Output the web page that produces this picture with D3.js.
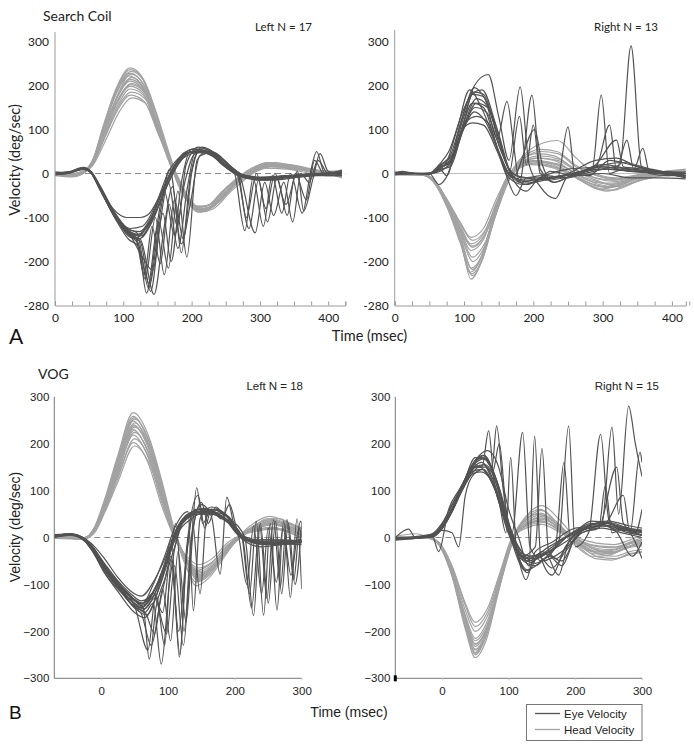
<!DOCTYPE html>
<html><head><meta charset="utf-8">
<script src="https://cdn.jsdelivr.net/npm/d3@7"></script>
<style>body{margin:0;background:#fff}svg{display:block}</style>
</head><body>
<script>
// ---------- DATA (time ms, velocity deg/sec as flat [t,v,t,v,...] knots) ----------
const yTickValues = [300,200,100,0,-100,-200,-300];
const aYTickLabels = ["300","200","100","0","-100","-200","-280"];
const bYTickLabels = ["300","200","100","0","\u2212100","\u2212200","\u2212300"];
const aXTickValues = [0,25,50,75,100,125,150,175,200,225,250,275,300,325,350,375,400,425];
const aXLabelValues = [0,100,200,300,400];
const bXTickValues = [0,100,200,300];
const legendLabels = ["Eye Velocity","Head Velocity"];
const panelTitles = ["Left N = 17","Right N = 13","Left N = 18","Right N = 15"];

const aLeftHead = [
[0,3, 25,-2, 45,8, 55,30, 70,105, 90,195, 110,240, 125,225, 145,150, 165,50, 180,-20, 200,-70, 215,-85, 235,-70, 260,-25, 285,5, 310,22, 345,15, 380,5, 420,-5],
[0,0, 25,-4, 45,6, 55,28, 70,100, 90,190, 112,232, 128,215, 148,130, 168,35, 185,-35, 205,-80, 225,-78, 250,-40, 275,-5, 305,18, 340,12, 380,3, 420,-8],
[0,-3, 25,-6, 45,5, 55,25, 70,95, 90,185, 110,228, 130,200, 150,115, 170,25, 190,-45, 210,-82, 230,-72, 255,-35, 280,0, 310,25, 345,20, 385,8, 420,2],
[0,5, 25,0, 45,10, 55,30, 70,98, 90,182, 108,222, 125,205, 145,135, 165,40, 180,-25, 200,-72, 220,-75, 245,-40, 270,-8, 300,15, 340,18, 380,6, 420,5],
[0,-5, 25,-8, 45,4, 55,22, 72,95, 92,178, 112,218, 130,195, 150,110, 172,15, 192,-55, 212,-88, 232,-80, 258,-40, 285,-5, 315,22, 350,16, 390,4, 420,-10],
[0,2, 25,-3, 45,6, 55,26, 70,92, 90,170, 110,210, 130,190, 150,105, 170,18, 188,-40, 208,-78, 228,-70, 252,-30, 278,0, 305,20, 345,14, 385,2, 420,0],
[0,-2, 25,-5, 45,5, 55,24, 72,90, 92,168, 112,205, 132,182, 152,95, 174,10, 195,-55, 215,-82, 238,-65, 262,-25, 290,5, 320,25, 355,15, 390,0, 420,-3],
[0,4, 25,-1, 45,7, 55,25, 70,88, 90,160, 110,198, 128,185, 148,110, 168,25, 186,-40, 205,-75, 225,-72, 250,-35, 275,-5, 302,12, 340,10, 380,0, 420,8],
[0,0, 25,-4, 45,6, 55,22, 72,82, 92,155, 110,192, 130,178, 150,100, 170,15, 190,-50, 210,-88, 230,-78, 255,-38, 282,-2, 312,18, 350,12, 390,2, 420,-6],
[0,-4, 25,-6, 45,4, 55,20, 72,80, 92,150, 112,185, 132,170, 152,90, 175,5, 195,-58, 215,-85, 240,-65, 265,-25, 292,3, 322,20, 360,10, 395,0, 420,3],
[0,1, 25,-3, 45,5, 55,20, 72,78, 92,145, 110,178, 130,165, 150,95, 172,10, 192,-52, 212,-80, 235,-70, 260,-30, 285,0, 315,15, 350,10, 390,2, 420,-2],
[0,-1, 25,-5, 45,5, 55,18, 74,75, 94,140, 112,172, 132,160, 152,88, 176,5, 198,-60, 218,-82, 242,-60, 268,-20, 295,5, 325,18, 360,8, 400,0, 420,4],
[0,2, 25,-2, 45,7, 55,28, 70,102, 90,192, 110,236, 128,218, 148,140, 168,42, 184,-28, 204,-78, 222,-80, 248,-38, 272,-4, 304,20, 342,14, 380,4, 420,-2],
[0,-2, 25,-5, 45,5, 55,24, 71,94, 91,176, 111,226, 129,205, 149,120, 170,22, 190,-48, 210,-84, 230,-74, 256,-32, 282,0, 312,24, 348,16, 386,4, 420,6],
[0,1, 25,-3, 45,6, 55,24, 71,92, 91,172, 110,214, 129,196, 149,112, 170,20, 189,-45, 208,-78, 228,-70, 254,-30, 280,2, 308,18, 346,12, 385,2, 420,-4],
[0,0, 25,-4, 45,5, 55,22, 72,86, 92,162, 111,202, 131,185, 151,100, 172,12, 193,-52, 213,-86, 236,-70, 262,-28, 288,2, 318,22, 354,14, 392,2, 420,0]
];
const aLeftEye = [
[0,0, 20,2, 42,12, 50,6, 65,-30, 85,-80, 105,-100, 125,-100, 135,-95, 150,-60, 165,0, 185,40, 205,50, 230,40, 255,10, 275,-5, 300,-10, 340,-5, 380,0, 420,0],
[0,-2, 20,2, 42,10, 52,4, 66,-35, 88,-95, 108,-130, 122,-138, 140,-110, 160,-40, 178,20, 200,55, 220,52, 245,20, 268,-5, 300,-15, 340,-10, 380,-5, 420,5],
[0,0, 20,4, 42,14, 52,5, 66,-32, 86,-92, 106,-135, 120,-145, 135,-120, 155,-50, 175,15, 200,45, 220,50, 250,15, 270,-5, 300,-12, 345,-8, 390,0, 420,-3],
[0,2, 20,3, 42,12, 52,4, 66,-35, 88,-100, 108,-140, 122,-160, 134,-272, 148,-130, 160,-40, 175,-140, 190,-20, 205,45, 225,50, 250,25, 270,0, 300,-10, 340,-5, 420,0],
[0,-3, 20,1, 42,11, 52,3, 66,-38, 88,-98, 110,-145, 125,-150, 145,-275, 160,-120, 172,-30, 185,-180, 198,-10, 212,55, 235,40, 258,10, 280,-10, 320,-15, 370,-5, 420,2],
[0,1, 20,3, 42,12, 52,5, 66,-30, 86,-90, 105,-130, 118,-145, 132,-240, 147,-100, 160,-230, 175,-60, 188,-150, 200,0, 215,60, 240,40, 262,5, 290,-10, 340,-8, 420,5],
[0,0, 20,2, 42,13, 52,4, 66,-36, 88,-102, 108,-150, 122,-165, 138,-250, 152,-110, 166,-215, 180,-40, 193,-190, 208,30, 222,50, 248,30, 268,0, 300,-8, 350,-5, 420,-5],
[0,-1, 20,2, 42,10, 52,3, 66,-34, 88,-96, 110,-140, 128,-190, 143,-220, 158,-90, 170,-200, 185,-20, 200,55, 225,45, 252,15, 275,-8, 310,-12, 360,-5, 420,0],
[0,2, 20,3, 42,12, 52,6, 66,-28, 86,-85, 106,-125, 120,-135, 137,-260, 155,-80, 168,10, 185,-160, 198,-70, 212,40, 232,48, 256,18, 278,-5, 310,-10, 360,-5, 420,3],
[0,0, 20,2, 42,11, 52,4, 66,-33, 88,-97, 108,-128, 124,-132, 142,-95, 160,-30, 178,25, 200,50, 225,48, 250,18, 262,5, 278,-130, 290,-10, 305,-120, 318,-5, 332,-90, 345,0, 362,-90, 375,10, 383,50, 395,0, 420,5],
[0,-2, 20,1, 42,10, 52,3, 66,-36, 88,-100, 110,-138, 126,-142, 144,-100, 162,-35, 180,20, 205,52, 228,45, 252,12, 266,0, 284,-125, 298,-15, 311,-110, 325,-10, 340,-95, 352,0, 368,-60, 380,30, 395,-5, 420,-5],
[0,1, 20,3, 42,12, 52,5, 66,-31, 88,-94, 108,-132, 122,-140, 140,-105, 158,-38, 176,18, 200,48, 224,45, 250,15, 270,-5, 293,-135, 307,-20, 320,-95, 335,-20, 348,-110, 360,0, 372,-20, 385,30, 400,0, 420,8],
[0,-1, 20,2, 42,11, 52,4, 66,-34, 88,-99, 108,-136, 124,-148, 142,-110, 160,-42, 178,15, 202,50, 226,48, 250,16, 268,0, 280,-100, 295,0, 309,-80, 322,0, 338,-70, 355,5, 364,-85, 378,-10, 388,45, 400,5, 420,0],
[0,0, 20,1, 42,10, 52,3, 68,-38, 90,-100, 110,-125, 128,-120, 148,-70, 168,0, 190,48, 212,58, 235,45, 258,15, 280,-8, 310,-15, 350,-5, 420,3],
[0,1, 20,3, 42,12, 52,5, 66,-33, 88,-98, 108,-138, 120,-150, 131,-230, 142,-120, 154,-205, 167,-70, 180,-170, 194,-30, 206,50, 230,45, 256,12, 278,-5, 310,-12, 360,-5, 420,2],
[0,0, 20,2, 42,11, 52,4, 66,-35, 88,-101, 110,-142, 125,-155, 140,-268, 154,-110, 166,-20, 179,-120, 192,20, 210,60, 232,45, 256,12, 276,-5, 310,-10, 360,-3, 420,0]
];

const aRightHead = [
[0,0, 20,-2, 40,-2, 55,-15, 75,-70, 95,-150, 110,-240, 125,-200, 140,-120, 155,-40, 170,5, 190,25, 220,20, 250,0, 280,-25, 300,-35, 340,-15, 380,0, 420,5],
[0,2, 20,0, 40,-3, 55,-18, 75,-75, 95,-160, 112,-232, 128,-190, 143,-105, 160,-25, 175,10, 200,30, 225,25, 255,0, 285,-30, 305,-40, 345,-20, 385,-5, 420,0],
[0,-2, 20,-3, 40,-4, 55,-16, 75,-72, 95,-155, 108,-225, 124,-195, 140,-110, 157,-30, 172,5, 195,20, 230,15, 260,-5, 290,-28, 310,-32, 350,-12, 390,-2, 420,-5],
[0,0, 20,-1, 40,-2, 55,-14, 75,-68, 95,-148, 112,-218, 130,-170, 146,-85, 162,-15, 178,15, 205,35, 235,30, 262,5, 290,-15, 312,-25, 350,-10, 390,5, 420,8],
[0,3, 20,1, 40,-1, 55,-12, 75,-62, 95,-140, 110,-215, 126,-185, 142,-100, 158,-20, 175,12, 200,22, 230,12, 260,-8, 292,-35, 315,-38, 355,-15, 395,-5, 420,-8],
[0,-1, 20,-2, 40,-3, 55,-15, 75,-66, 95,-130, 110,-175, 128,-150, 145,-80, 162,-15, 180,25, 205,45, 230,40, 260,10, 290,-10, 315,-15, 350,-5, 390,5, 420,10],
[0,1, 20,0, 40,-2, 55,-14, 75,-62, 95,-125, 112,-168, 130,-140, 148,-70, 165,-5, 185,40, 215,70, 235,75, 262,35, 290,0, 320,-10, 360,0, 395,5, 420,5],
[0,0, 20,-2, 40,-3, 55,-13, 75,-60, 95,-120, 110,-160, 128,-138, 146,-70, 162,-10, 180,20, 205,35, 230,30, 260,0, 290,-20, 315,-22, 350,-8, 390,0, 420,-3],
[0,2, 20,1, 40,-1, 55,-12, 75,-58, 95,-115, 112,-152, 130,-130, 148,-62, 165,-5, 183,30, 210,50, 235,45, 262,15, 292,-5, 320,-12, 360,-2, 400,5, 420,3],
[0,-3, 20,-3, 40,-4, 55,-14, 75,-58, 95,-112, 110,-145, 128,-125, 146,-60, 163,-8, 180,18, 205,28, 235,22, 265,-5, 295,-25, 320,-30, 360,-10, 400,0, 420,-2],
[0,0, 20,-1, 40,-2, 55,-13, 75,-64, 95,-138, 113,-200, 130,-165, 147,-90, 164,-18, 180,12, 210,25, 240,18, 268,-5, 295,-20, 318,-28, 355,-10, 395,0, 420,2],
[0,1, 20,0, 40,-2, 55,-12, 75,-60, 95,-132, 112,-190, 130,-158, 148,-82, 166,-12, 185,28, 210,40, 238,32, 265,5, 292,-12, 318,-18, 355,-5, 395,2, 420,0],
[0,0, 20,-1, 40,-3, 55,-16, 75,-70, 95,-152, 111,-228, 127,-192, 143,-108, 159,-28, 175,8, 200,28, 228,20, 256,-2, 286,-24, 308,-30, 348,-12, 388,-2, 420,4],
[0,1, 20,0, 40,-2, 55,-13, 75,-61, 95,-128, 111,-165, 129,-142, 147,-72, 164,-8, 182,32, 210,55, 234,50, 262,18, 290,-4, 318,-14, 358,-4, 396,4, 420,6]
];
const aRightEye = [
[0,0, 10,5, 30,0, 50,0, 62,15, 72,20, 90,100, 108,190, 125,150, 145,70, 160,0, 175,-50, 190,-10, 210,-10, 240,-5, 270,5, 300,10, 340,5, 380,0, 420,-5],
[0,-3, 30,0, 50,-2, 65,10, 75,-5, 92,95, 112,180, 128,175, 148,80, 162,164, 172,60, 180,-20, 200,-15, 230,-10, 260,0, 300,20, 340,10, 380,5, 420,0],
[0,0, 30,0, 50,0, 65,12, 80,30, 100,120, 115,200, 135,225, 150,130, 165,30, 181,197, 194,20, 210,-30, 232,-57, 248,-10, 265,0, 300,10, 350,5, 420,-5],
[0,2, 30,0, 50,-2, 66,20, 80,40, 98,130, 115,195, 130,170, 150,90, 165,10, 180,-20, 198,178, 210,10, 230,-20, 260,0, 300,15, 340,5, 420,0],
[0,0, 30,0, 50,0, 64,-25, 74,-10, 95,90, 112,160, 128,150, 148,60, 165,0, 180,130, 190,20, 200,110, 210,0, 225,-10, 260,0, 300,15, 340,10, 420,-8],
[0,-2, 30,-1, 52,0, 66,5, 80,25, 100,110, 118,170, 133,155, 152,70, 168,-5, 190,-40, 210,-10, 235,-10, 250,106, 260,0, 280,-5, 310,30, 340,20, 380,5, 420,0],
[0,0, 30,0, 52,2, 66,10, 80,15, 98,95, 115,140, 130,120, 150,50, 168,-5, 190,-15, 220,-10, 260,0, 285,10, 298,178, 310,0, 330,10, 360,5, 420,0],
[0,0, 30,0, 52,0, 66,8, 80,20, 100,105, 118,160, 134,150, 152,60, 170,0, 190,-10, 220,-15, 260,-5, 300,10, 325,20, 341,290, 356,15, 370,0, 395,0, 420,-8],
[0,0, 30,1, 52,0, 68,15, 82,35, 100,110, 116,150, 132,140, 150,65, 168,0, 190,-25, 215,-5, 250,10, 290,15, 310,110, 320,10, 335,76, 345,10, 358,57, 368,0, 395,-5, 420,0],
[0,0, 30,0, 52,0, 66,12, 82,30, 102,115, 118,130, 135,115, 152,40, 170,-10, 202,100, 213,20, 230,-20, 260,0, 290,20, 320,76, 330,15, 360,10, 420,-10],
[0,-2, 30,0, 52,-1, 66,15, 80,25, 98,100, 112,115, 128,110, 148,50, 165,-10, 185,-25, 215,-15, 250,0, 290,30, 320,35, 350,15, 380,5, 420,3],
[0,0, 30,0, 52,0, 66,18, 82,40, 100,130, 115,185, 128,180, 148,90, 165,10, 185,-10, 215,-5, 250,-10, 290,15, 330,25, 370,10, 420,-5],
[0,3, 30,0, 52,0, 64,20, 78,50, 98,140, 112,182, 126,190, 146,110, 162,20, 178,-15, 200,-20, 225,5, 260,-5, 300,0, 340,-10, 380,-10, 420,-12]
];

const bLeftHead = [
[-70,3, -45,2, -25,0, -10,22, 5,80, 25,175, 48,266, 70,220, 90,125, 108,25, 125,-50, 142,-103, 162,-85, 185,-40, 205,0, 230,32, 252,45, 275,35, 300,20],
[-70,2, -45,0, -25,-2, -10,20, 5,75, 25,170, 48,258, 70,210, 90,115, 108,18, 125,-55, 142,-95, 162,-80, 185,-35, 208,0, 232,28, 255,40, 278,30, 300,18],
[-70,0, -45,-2, -25,-3, -10,18, 5,72, 25,165, 50,252, 72,205, 92,108, 110,10, 128,-52, 145,-90, 165,-70, 188,-28, 210,5, 235,30, 255,38, 280,25, 300,12],
[-70,4, -45,2, -25,0, -10,20, 5,74, 25,162, 48,248, 70,200, 90,105, 108,12, 126,-45, 143,-85, 162,-72, 185,-30, 208,0, 232,22, 252,30, 278,22, 300,10],
[-70,-2, -45,-3, -25,-4, -10,16, 5,70, 25,158, 50,244, 72,198, 92,100, 112,5, 130,-55, 148,-88, 168,-65, 190,-20, 212,10, 238,28, 258,35, 282,22, 300,8],
[-70,1, -45,0, -25,-1, -10,18, 5,70, 25,155, 48,240, 70,195, 90,98, 110,8, 128,-48, 145,-80, 165,-68, 188,-28, 210,2, 235,20, 255,28, 280,18, 300,5],
[-70,3, -45,1, -25,0, -10,17, 5,68, 25,150, 50,235, 72,190, 92,92, 112,2, 130,-52, 148,-78, 168,-60, 192,-18, 215,8, 240,25, 260,30, 285,20, 300,10],
[-70,0, -45,-1, -25,-2, -10,15, 5,65, 25,145, 48,230, 70,182, 90,88, 108,5, 126,-42, 142,-70, 162,-58, 186,-22, 210,5, 235,18, 255,22, 280,12, 300,0],
[-70,2, -45,0, -25,-1, -10,15, 5,62, 25,140, 50,224, 72,178, 92,82, 112,-2, 130,-50, 148,-72, 170,-52, 195,-12, 218,10, 242,25, 262,28, 285,15, 300,5],
[-70,-1, -45,-2, -25,-3, -10,14, 5,60, 25,135, 48,218, 70,172, 90,78, 110,0, 128,-45, 146,-65, 166,-52, 190,-15, 212,5, 238,15, 258,18, 282,10, 300,-2],
[-70,1, -45,0, -25,-2, -10,13, 5,58, 25,130, 50,210, 72,168, 92,75, 112,-3, 132,-55, 150,-75, 170,-55, 195,-10, 220,15, 245,30, 265,32, 288,18, 300,8],
[-70,3, -45,1, -25,0, -10,12, 5,55, 25,125, 48,202, 70,160, 90,70, 110,0, 128,-40, 146,-58, 166,-45, 190,-10, 215,8, 240,18, 260,20, 285,12, 300,4],
[-70,0, -45,-1, -25,-2, -10,10, 5,52, 25,118, 50,195, 72,158, 94,68, 114,-5, 134,-60, 152,-82, 172,-58, 198,-10, 222,15, 248,40, 268,40, 290,22, 300,15],
[-70,2, -45,1, -25,-1, -10,19, 5,73, 25,166, 49,255, 71,208, 91,112, 109,16, 127,-50, 144,-92, 164,-76, 187,-32, 209,2, 234,26, 254,36, 279,26, 300,14],
[-70,0, -45,-1, -25,-2, -10,16, 5,66, 25,148, 49,238, 71,190, 91,95, 111,4, 129,-50, 147,-82, 167,-62, 190,-22, 213,6, 238,22, 258,28, 282,18, 300,6],
[-70,1, -45,0, -25,-2, -10,14, 5,62, 25,138, 49,228, 71,180, 91,85, 111,-2, 130,-52, 148,-85, 168,-62, 193,-15, 217,12, 242,30, 262,34, 286,20, 300,10]
];
const bLeftEye = [
[-70,2, -45,8, -30,2, -15,-15, 0,-50, 20,-95, 45,-140, 60,-150, 80,-110, 100,-45, 115,10, 135,40, 160,55, 185,40, 210,0, 240,-10, 270,-10, 300,-8],
[-70,5, -45,6, -30,0, -12,-25, 5,-70, 25,-105, 50,-150, 68,-165, 88,-100, 105,-20, 120,30, 145,50, 170,50, 195,30, 215,-5, 245,-15, 275,-10, 300,-12],
[-70,3, -45,6, -30,0, -15,-20, 5,-65, 25,-100, 50,-135, 63,-150, 72,-259, 82,-150, 95,-90, 110,-20, 125,40, 150,60, 175,45, 200,20, 215,-5, 250,-5, 300,-10],
[-70,0, -45,5, -30,-2, -15,-22, 5,-75, 25,-110, 50,-140, 65,-160, 78,-140, 90,-270, 102,-100, 112,-10, 128,45, 155,55, 185,40, 210,0, 250,-15, 300,-5],
[-70,4, -45,7, -30,1, -15,-18, 5,-60, 25,-95, 45,-125, 60,-145, 80,-120, 95,-60, 105,-5, 117,-255, 128,-40, 140,60, 165,55, 190,45, 210,5, 245,-12, 300,-8],
[-70,2, -45,6, -30,0, -15,-25, 5,-70, 25,-108, 48,-145, 62,-155, 80,-130, 98,-205, 110,-60, 123,-230, 135,-10, 143,106, 152,30, 165,60, 185,50, 210,0, 245,-10, 300,-15],
[-70,6, -45,8, -30,2, -15,-20, 5,-68, 25,-100, 50,-150, 60,-162, 75,-230, 88,-140, 100,-60, 112,30, 124,-200, 135,0, 150,70, 165,45, 178,-78, 188,86, 200,20, 215,-5, 250,-10, 300,-5],
[-70,3, -45,5, -30,0, -15,-18, 5,-62, 25,-98, 48,-130, 62,-140, 78,-100, 95,-40, 110,20, 130,55, 138,-156, 148,40, 165,65, 185,50, 205,10, 230,-10, 265,-15, 300,-10],
[-70,2, -45,6, -30,0, -15,-22, 5,-66, 25,-102, 48,-138, 62,-148, 82,-105, 100,-35, 114,20, 138,50, 162,55, 188,38, 210,5, 222,-120, 232,35, 243,-166, 253,30, 263,-155, 273,35, 283,-128, 293,40, 300,-110],
[-70,4, -45,7, -30,1, -15,-16, 5,-58, 25,-96, 46,-128, 62,-140, 84,-98, 102,-28, 116,25, 140,52, 165,60, 190,42, 215,0, 228,-166, 238,30, 250,-140, 261,35, 270,-120, 280,30, 290,-100, 300,30],
[-70,1, -45,5, -30,-1, -15,-20, 5,-64, 25,-98, 50,-142, 64,-152, 84,-108, 100,-42, 115,15, 140,48, 165,52, 190,35, 212,-5, 225,-150, 237,25, 248,-130, 258,38, 268,-105, 278,38, 288,-90, 298,35, 300,30],
[-70,4, -45,8, -30,2, -15,-12, 5,-45, 25,-85, 45,-115, 60,-125, 80,-90, 100,-30, 115,25, 140,55, 165,50, 190,35, 210,-2, 240,-20, 270,-15, 300,-10],
[-70,3, -45,6, -30,0, -15,-25, 5,-75, 25,-115, 50,-160, 65,-171, 85,-115, 100,-50, 112,10, 130,45, 158,58, 180,45, 205,10, 235,-5, 270,-5, 300,-8],
[-70,2, -45,5, -30,0, -15,-20, 5,-65, 25,-100, 50,-145, 70,-240, 82,-120, 95,-230, 105,-50, 118,-250, 128,-20, 145,90, 155,20, 165,60, 180,40, 192,70, 205,10, 220,-5, 260,-10, 300,-5],
[-70,3, -45,6, -30,0, -15,-20, 5,-66, 25,-104, 50,-148, 66,-160, 80,-205, 92,-110, 104,-220, 115,-30, 127,-180, 138,20, 150,75, 160,30, 172,65, 186,40, 205,5, 230,-10, 265,-12, 300,-8],
[-70,2, -45,6, -30,1, -15,-18, 5,-60, 25,-96, 48,-132, 62,-142, 78,-118, 92,-160, 104,-40, 116,-200, 126,-60, 136,40, 148,-120, 158,50, 170,60, 190,45, 210,0, 245,-12, 300,-10],
[-70,4, -45,7, -30,1, -15,-16, 5,-55, 25,-92, 46,-122, 60,-135, 80,-112, 98,-50, 112,15, 130,50, 155,62, 180,45, 205,5, 218,-100, 228,25, 240,-120, 250,20, 262,-95, 272,20, 284,-80, 296,20, 300,0]
];

const bRightHead = [
[-70,0, -40,2, -20,0, -5,-15, 15,-82, 35,-195, 50,-256, 66,-220, 85,-115, 103,-15, 122,35, 145,50, 170,25, 195,-10, 225,-40, 250,-38, 275,-22, 300,-10],
[-70,-2, -40,0, -20,-1, -5,-14, 15,-80, 35,-190, 50,-250, 66,-212, 85,-110, 104,-10, 124,40, 148,60, 172,30, 198,-5, 228,-35, 252,-35, 278,-20, 300,-15],
[-70,2, -40,8, -20,0, -5,-13, 15,-78, 35,-185, 50,-245, 66,-205, 86,-102, 105,-5, 126,45, 150,68, 175,40, 200,0, 230,-25, 255,-30, 280,-20, 300,-5],
[-70,0, -40,-1, -20,-2, -5,-15, 15,-78, 35,-182, 50,-238, 67,-200, 87,-98, 106,-8, 126,30, 150,42, 175,20, 200,-12, 230,-45, 255,-48, 280,-35, 300,-30],
[-70,1, -40,1, -20,0, -5,-12, 15,-75, 35,-178, 50,-232, 67,-195, 87,-95, 106,-5, 127,35, 150,48, 176,25, 202,-8, 232,-30, 256,-32, 280,-20, 300,-12],
[-70,-1, -40,0, -20,-1, -5,-12, 15,-72, 35,-172, 50,-226, 68,-190, 88,-92, 108,-2, 128,30, 152,38, 178,18, 205,-10, 235,-35, 258,-40, 282,-30, 300,-25],
[-70,0, -40,0, -20,0, -5,-12, 15,-72, 35,-170, 50,-220, 68,-185, 88,-90, 108,0, 128,25, 152,32, 178,12, 205,-15, 235,-42, 260,-45, 285,-35, 300,-32],
[-70,2, -40,1, -20,0, -5,-11, 15,-70, 35,-165, 50,-215, 68,-178, 88,-85, 108,2, 128,28, 150,35, 176,15, 205,-5, 235,-20, 260,-22, 285,-10, 300,-5],
[-70,-2, -40,-1, -20,-2, -5,-10, 15,-62, 35,-145, 50,-190, 68,-160, 88,-75, 106,0, 126,20, 150,28, 178,10, 205,-8, 235,-18, 260,-20, 285,-8, 300,0],
[-70,0, -40,0, -20,-1, -5,-10, 15,-60, 35,-140, 50,-181, 68,-152, 88,-70, 105,0, 124,25, 148,35, 175,18, 202,0, 232,-12, 258,-15, 282,-5, 300,5],
[-70,1, -40,0, -20,0, -5,-13, 15,-76, 35,-180, 50,-240, 67,-202, 86,-100, 105,-6, 125,38, 148,52, 172,28, 198,-8, 228,-30, 253,-28, 278,-15, 300,-8],
[-70,0, -40,-1, -20,-1, -5,-12, 15,-74, 35,-175, 50,-228, 68,-192, 88,-96, 108,-4, 128,32, 152,45, 178,22, 205,-6, 235,-28, 258,-30, 282,-18, 300,-12],
[-70,0, -40,1, -20,0, -5,-14, 15,-79, 35,-188, 50,-247, 66,-208, 86,-105, 105,-8, 125,36, 149,58, 173,32, 199,-6, 229,-32, 254,-34, 279,-22, 300,-18],
[-70,1, -40,0, -20,-1, -5,-11, 15,-66, 35,-155, 50,-200, 68,-168, 88,-80, 107,0, 127,26, 151,40, 177,20, 204,-4, 234,-24, 259,-26, 284,-12, 300,-4]
];
const bRightEye = [
[-70,-5, -40,0, -15,5, 0,25, 15,60, 30,110, 50,165, 62,175, 80,120, 100,20, 115,-30, 135,-40, 160,-20, 190,5, 220,25, 245,30, 270,20, 300,10],
[-70,-3, -40,-2, -15,3, 0,20, 15,55, 30,100, 48,150, 60,160, 78,110, 98,15, 115,-35, 140,-45, 165,-25, 195,10, 225,30, 250,25, 280,10, 300,5],
[-70,0, -40,0, -15,5, 0,22, 15,60, 28,100, 45,150, 60,150, 70,227, 78,120, 95,40, 110,-20, 126,-90, 140,-30, 165,-10, 200,20, 240,25, 270,15, 300,15],
[-70,-2, -40,2, -15,8, 0,30, 15,70, 30,110, 48,160, 62,170, 75,150, 82,238, 92,100, 105,10, 121,224, 132,-20, 150,-50, 180,-30, 210,10, 240,20, 270,10, 300,0],
[-70,0, -40,0, -15,2, 0,18, 15,55, 30,105, 50,155, 65,140, 85,80, 96,10, 103,171, 112,-30, 130,-70, 139,216, 148,-40, 165,-80, 185,-20, 210,15, 245,25, 275,15, 300,5],
[-70,-5, -40,-2, -15,5, 0,15, 15,10, 25,-20, 35,90, 48,135, 62,145, 80,100, 100,20, 118,-40, 140,-55, 165,-30, 190,5, 220,20, 250,25, 280,20, 300,15],
[-70,0, -40,0, -15,3, 0,20, 15,58, 30,100, 50,150, 65,150, 85,90, 105,0, 125,-50, 150,-40, 175,-10, 190,238, 200,-20, 220,10, 238,220, 250,40, 265,20, 285,15, 300,10],
[-70,-3, -40,0, -15,0, 0,20, 15,60, 30,105, 50,170, 66,165, 85,110, 105,10, 125,-45, 150,-35, 180,-5, 210,15, 240,30, 255,235, 265,50, 280,280, 290,200, 300,130],
[-70,0, -50,18, -40,0, -15,2, 0,20, 15,55, 30,100, 50,145, 65,155, 85,100, 105,-10, 125,-70, 150,-50, 170,-20, 183,160, 193,-10, 215,20, 245,30, 272,90, 282,10, 297,182, 300,160],
[-70,-2, -40,-2, -15,4, 0,22, 15,60, 30,108, 50,160, 63,175, 80,130, 100,30, 115,-20, 135,-50, 155,-35, 175,-80, 190,-10, 215,20, 235,20, 245,110, 255,10, 275,20, 290,-10, 300,-45],
[-70,0, -40,0, -15,6, 0,28, 15,68, 30,112, 50,165, 68,185, 85,150, 100,60, 115,0, 130,-60, 150,-30, 172,-45, 195,0, 225,35, 250,30, 275,20, 300,5],
[-70,-4, -40,0, -15,5, -5,-30, 10,60, 25,100, 45,140, 60,145, 80,100, 98,20, 120,-40, 140,-20, 150,190, 160,-30, 180,-50, 200,0, 230,30, 260,15, 285,-40, 300,-10],
[-70,0, -40,0, -15,3, 0,20, 12,50, 28,95, 45,135, 58,140, 75,120, 95,40, 110,-10, 130,-40, 160,-30, 190,-5, 220,25, 250,35, 280,25, 300,20],
[-70,0, -40,0, -15,4, 0,24, 15,62, 30,106, 50,158, 64,168, 82,120, 100,25, 118,-45, 140,-60, 160,-40, 180,-60, 198,-5, 225,28, 250,32, 275,22, 300,12],
[-70,-2, -40,0, -15,3, 0,20, 15,58, 30,102, 50,150, 62,155, 76,140, 86,200, 96,60, 110,-20, 128,-75, 145,-40, 165,-65, 185,-30, 210,10, 235,20, 262,150, 272,30, 290,10, 300,60]
];

// ---------- DRAWING ----------
const W = 694, H = 751;
const svg = d3.select("body").append("svg").attr("width", W).attr("height", H);
const headColor = "#a2a2a2", eyeColor = "#525252";
const fontA = "Lato, 'Open Sans', sans-serif";
const fontB = "'Liberation Sans', Arial, sans-serif";

function pairs(a){ const r=[]; for(let i=0;i<a.length;i+=2) r.push([a[i],a[i+1]]); return r; }

const panels = [
 {style:"A", xr:[55,345.3], xd:[0,425], yr:[305.5,41.5], axisTop:32, head:aLeftHead, eye:aLeftEye, zero:"dash", title:panelTitles[0], tx:312, ty:31, ylabx:20, ylaby:160},
 {style:"A", xr:[394.7,685.8], xd:[0,420], yr:[305.5,41.5], axisTop:30, head:aRightHead, eye:aRightEye, zero:"solid", title:panelTitles[1], tx:658, ty:31},
 {style:"B", xr:[54.3,301.7], xd:[-70,300], yr:[678.3,396.7], head:bLeftHead, eye:bLeftEye, zero:"dash", title:panelTitles[2], tx:303, ty:390, ylabx:20, ylaby:527},
 {style:"B", xr:[395.3,642], xd:[-70,300], yr:[678.3,396.7], head:bRightHead, eye:bRightEye, zero:"dash", title:panelTitles[3], tx:659, ty:390, marker:true}
];

panels.forEach((p,i) => {
  const x = d3.scaleLinear().domain(p.xd).range(p.xr);
  const y = d3.scaleLinear().domain([-300,300]).range(p.yr);
  const g = svg.append("g");
  const isA = p.style === "A";
  const font = isA ? fontA : fontB;
  const clipId = "clip"+i;
  svg.append("clipPath").attr("id", clipId).append("rect")
    .attr("x", p.xr[0]).attr("y", 0).attr("width", p.xr[1]-p.xr[0]).attr("height", H);

  g.append("line").attr("x1", p.xr[0]).attr("x2", p.xr[1]).attr("y1", y(0)).attr("y2", y(0))
    .attr("stroke", p.zero==="dash" ? "#8a8a8a" : "#bdbdbd").attr("stroke-width", 1)
    .attr("stroke-dasharray", p.zero==="dash" ? "6,4" : null);

  const line = d3.line().x(d => x(d[0])).y(d => y(d[1])).curve(d3.curveMonotoneX);
  const tg = g.append("g").attr("clip-path", `url(#${clipId})`);
  tg.selectAll(".head").data(p.head).join("path")
    .attr("d", d => line(pairs(d))).attr("fill","none").attr("stroke", headColor).attr("stroke-width", 1.2);
  tg.selectAll(".eye").data(p.eye).join("path")
    .attr("d", d => line(pairs(d))).attr("fill","none").attr("stroke", eyeColor).attr("stroke-width", 1.2);

  if (isA) {
    const xa = d3.axisBottom(x).tickValues(aXTickValues).tickSize(-4).tickPadding(8)
      .tickFormat(d => aXLabelValues.includes(d) ? String(d) : "");
    const gx = g.append("g").attr("transform", `translate(0,${p.yr[0]})`).call(xa);
    gx.select(".domain").attr("stroke", "#9a9a9a");
    gx.selectAll(".tick line").attr("stroke", "#9a9a9a");
    gx.selectAll("text").attr("font-family", font).attr("font-size", 12).attr("fill", "#222");
    g.append("line").attr("x1", p.xr[0]).attr("x2", p.xr[0]).attr("y1", p.axisTop).attr("y2", p.yr[0])
      .attr("stroke", "#9a9a9a").attr("stroke-width", 1);
    const ya = d3.axisLeft(y).tickValues(yTickValues).tickSize(0).tickPadding(6)
      .tickFormat((d,k) => aYTickLabels[k]);
    const gy = g.append("g").attr("transform", `translate(${p.xr[0]},0)`).call(ya);
    gy.select(".domain").remove();
    gy.selectAll("text").attr("font-family", font).attr("font-size", 12).attr("fill", "#222");
  } else {
    const xa = d3.axisBottom(x).tickValues(bXTickValues).tickSize(2).tickPadding(7);
    const gx = g.append("g").attr("transform", `translate(0,${p.yr[0]})`).call(xa);
    gx.select(".domain").attr("stroke", "#777").attr("d", `M${p.xr[0]},0H${p.xr[1]}`);
    gx.selectAll(".tick line").attr("stroke", "#ccc");
    gx.selectAll("text").attr("font-family", font).attr("font-size", 11.5).attr("fill", "#222");
    const ya = d3.axisLeft(y).tickValues(yTickValues).tickSize(0).tickPadding(5)
      .tickFormat((d,k) => bYTickLabels[k]);
    const gy = g.append("g").attr("transform", `translate(${p.xr[0]},0)`).call(ya);
    gy.select(".domain").attr("stroke", "#777").attr("d", `M0,${p.yr[1]}V${p.yr[0]}`);
    gy.selectAll("text").attr("font-family", font).attr("font-size", 11.5).attr("fill", "#222");
  }
  if (p.marker) {
    g.append("rect").attr("x", p.xr[0]-1.5).attr("y", p.yr[0]-3).attr("width", 3).attr("height", 6).attr("fill", "#000");
  }
  g.append("text").attr("x", p.tx).attr("y", p.ty).attr("text-anchor","end")
    .attr("font-family", font).attr("font-size", 11.5).attr("fill","#222").text(p.title);
  if (p.ylabx) {
    g.append("text").attr("transform", `translate(${p.ylabx},${p.ylaby}) rotate(-90)`)
      .attr("text-anchor","middle").attr("font-family", font).attr("font-size", isA ? 14.5 : 14)
      .attr("fill","#222").text("Velocity (deg/sec)");
  }
});

svg.append("text").attr("x", 43).attr("y", 21).attr("font-family", fontA).attr("font-size", 14).attr("fill","#222").text("Search Coil");
svg.append("text").attr("x", 38).attr("y", 379).attr("font-family", fontA).attr("font-size", 14).attr("fill","#222").text("VOG");
svg.append("text").attr("x", 9).attr("y", 344).attr("font-family", fontA).attr("font-size", 21).attr("fill","#111").text("A");
svg.append("text").attr("x", 9).attr("y", 719).attr("font-family", fontB).attr("font-size", 19).attr("fill","#111").text("B");
svg.append("text").attr("x", 369.5).attr("y", 341).attr("text-anchor","middle").attr("font-family", fontA).attr("font-size", 14.5).attr("fill","#222").text("Time (msec)");
svg.append("text").attr("x", 349).attr("y", 717).attr("text-anchor","middle").attr("font-family", fontB).attr("font-size", 14).attr("fill","#222").text("Time (msec)");

const lg = svg.append("g");
lg.append("rect").attr("x", 526.5).attr("y", 704.5).attr("width", 115.5).attr("height", 36)
  .attr("fill","#fff").attr("stroke","#777").attr("stroke-width",1);
[eyeColor, headColor].forEach((c,k) => {
  const yy = 713.5 + k*16;
  lg.append("line").attr("x1", 535).attr("x2", 560).attr("y1", yy).attr("y2", yy).attr("stroke", c).attr("stroke-width", 1.3);
  lg.append("text").attr("x", 564).attr("y", yy+4).attr("font-family", fontB).attr("font-size", 11.5).attr("fill","#222").text(legendLabels[k]);
});
</script>
</body></html>
